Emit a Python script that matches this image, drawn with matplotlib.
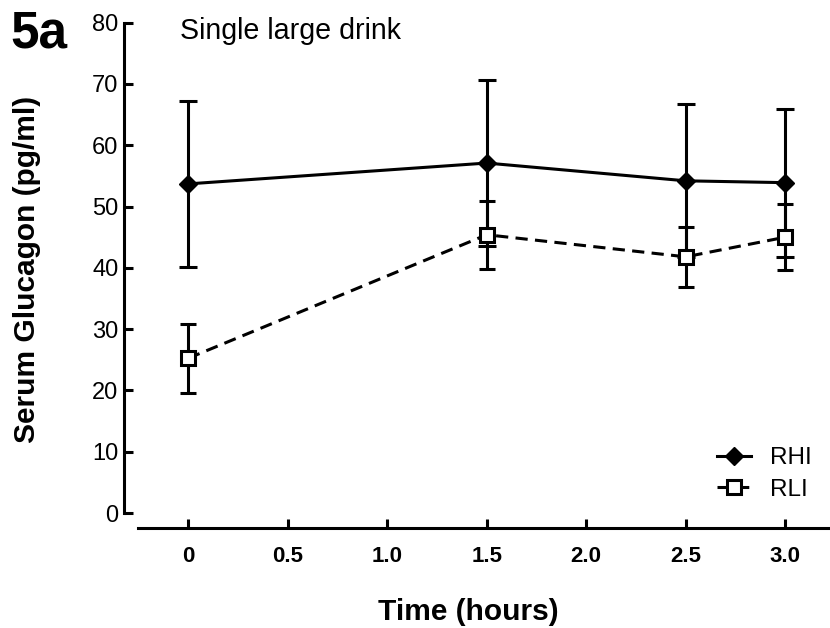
import matplotlib
matplotlib.use("Agg")
import matplotlib.pyplot as plt

plt.rcParams['font.family'] = ['Liberation Sans', 'DejaVu Sans']

time_h = [0, 1.5, 2.5, 3.0]
rhi_mean = [53.7, 57.1, 54.2, 53.9]
rhi_sd = [13.6, 13.5, 12.5, 12.1]
rli_mean = [25.25, 45.4, 41.8, 45.0]
rli_sd = [5.65, 5.55, 4.9, 5.4]

x_ticks = [0, 0.5, 1.0, 1.5, 2.0, 2.5, 3.0]
x_ticklabels = ["0", "0.5", "1.0", "1.5", "2.0", "2.5", "3.0"]
y_ticks = [0, 10, 20, 30, 40, 50, 60, 70, 80]

W, H = 830, 628
fig = plt.figure(figsize=(W / 100, H / 100), dpi=100)
ax = fig.add_axes([137.7 / W, 1 - 513 / H, 1 - 137.7 / W, (513 - 22.7) / H])

lw = 2.2
ax.errorbar(time_h, rhi_mean, yerr=rhi_sd, fmt='none', ecolor='black',
            elinewidth=lw, capsize=6.8, capthick=lw, zorder=2)
ax.errorbar(time_h, rli_mean, yerr=rli_sd, fmt='none', ecolor='black',
            elinewidth=lw, capsize=5.6, capthick=lw, zorder=3)
ax.plot(time_h, rhi_mean, color='black', lw=lw, marker='D', ms=9.5,
        mfc='black', mec='black', mew=1, label='RHI', zorder=4)
ax.plot(time_h, rli_mean, color='black', lw=lw, linestyle=(0, (4, 2.4)),
        marker='s', ms=10.5, mfc='white', mec='black', mew=2.2,
        label='RLI', zorder=5)

ax.set_xlim(-0.254, 3.225)
ax.set_ylim(0, 80)

for s in ['top', 'right']:
    ax.spines[s].set_visible(False)
ax.spines['left'].set_position(('outward', 10))
ax.spines['bottom'].set_position(('outward', 10.8))
ax.spines['left'].set_bounds(0, 80)
for s in ['left', 'bottom']:
    ax.spines[s].set_linewidth(lw)
ax.tick_params(axis='both', direction='in', length=6.5, width=lw)
ax.tick_params(axis='y', pad=4, labelsize=17)
ax.tick_params(axis='x', pad=13, labelsize=16)

ax.set_xticks(x_ticks)
ax.set_xticklabels(x_ticklabels)
ax.set_yticks(y_ticks)
ax.set_yticklabels([str(v) for v in y_ticks])
for t in ax.get_xticklabels():
    t.set_fontweight('bold')
    t.set_fontsize(16)
for t in ax.get_yticklabels():
    t.set_fontsize(17)

fig.text(27 / W, 1 - 269 / H, 'Serum Glucagon (pg/ml)', rotation=90,
         fontsize=21.5, fontweight='bold', ha='center', va='center')
fig.text(468 / W, 1 - 612 / H, 'Time (hours)', fontsize=21.5,
         fontweight='bold', ha='center', va='center')
fig.text(180 / W, 1 - 39.3 / H, 'Single large drink', fontsize=20.6,
         ha='left', va='baseline')
fig.text(10 / W, 1 - 48 / H, '5a', fontsize=37, fontweight='bold',
         ha='left', va='baseline')

leg = ax.legend(loc='lower right', bbox_to_anchor=(812 / W, 1 - 501 / H),
                bbox_transform=fig.transFigure, frameon=False, fontsize=17.5,
                handlelength=1.4, handletextpad=0.8, labelspacing=0.4,
                borderpad=0, borderaxespad=0)

fig.savefig('out.png', dpi=100)
